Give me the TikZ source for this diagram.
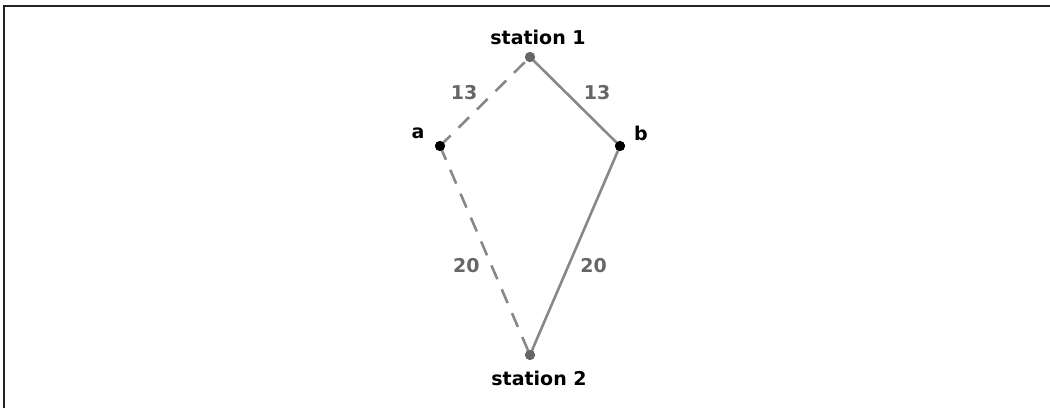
\documentclass[tikz,border=0pt]{standalone}
\usepackage{fontspec}
\setmainfont{DejaVu Sans}
\usepackage{tikz}
\usetikzlibrary{positioning}
\definecolor{EdgeGray}   {HTML}{888888}
\definecolor{LabelGray}  {HTML}{666666}
\definecolor{StationGray}{HTML}{666666}
\definecolor{FrameDark}  {HTML}{222222}
\tikzset{
  station/.style={circle,fill=StationGray,inner sep=0pt,minimum size=10pt},
  point/.style={circle,fill=black,inner sep=0pt,minimum size=10pt},
  tag/.style={font=\bfseries\fontsize{19}{21}\selectfont,text=black,inner sep=0pt},
  dist/.style={font=\bfseries\fontsize{19}{21}\selectfont,text=LabelGray,inner sep=0pt},
  road/.style={draw=EdgeGray,line width=2.6pt},
  guess/.style={road,dash pattern=on 15pt off 11pt}
}
\begin{document}
\begin{tikzpicture}[x=1pt,y=-1pt]
  \useasboundingbox (0,0) rectangle (1050,408);
  % frame
  \draw[FrameDark,line width=1.5pt] (4,408) -- (4,6) -- (1050,6);

  % stations and points
  \node[station] (s1) at (530,57) {};
  \node[station] (s2) at (530,355) {};
  \node[point] (a) at (440,146) {};
  \node[point] (b) at (620,146) {};

  \node[tag] (s1lab) at (538,37) {station 1};
  \node[tag] (s2lab) at (539,378) {station 2};
  \node[tag] (alab) at (418,133) {a};
  \node[tag] (blab) at (641,133) {b};

  % distances
  \draw[guess] (a.center) -- node[dist,pos=.6,xshift=-30pt] (d1) {13} (s1.center);
  \draw[road] (s1.center) -- node[dist,pos=.4,xshift=31pt] (d2) {13} (b.center);
  \draw[guess] (a.center) -- node[dist,pos=.57,xshift=-25pt] (d3) {20} (s2.center);
  \draw[road] (b.center) -- node[dist,pos=.57,xshift=25pt] (d4) {20} (s2.center);

  % dots on top of the lines
  \node[station] at (s1) {};
  \node[station] at (s2) {};
  \node[point] at (a) {};
  \node[point] at (b) {};
\end{tikzpicture}
\end{document}
